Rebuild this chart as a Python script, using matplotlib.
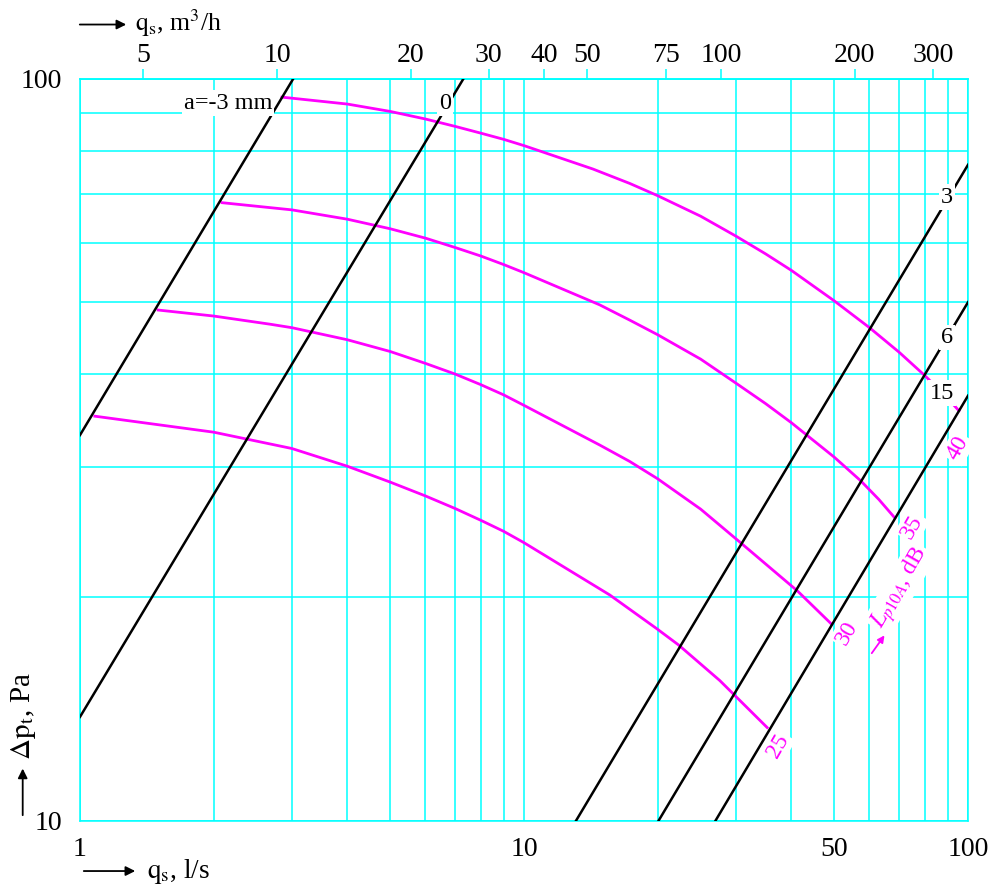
import matplotlib
matplotlib.use("Agg")
import matplotlib.pyplot as plt
from matplotlib.patches import FancyArrowPatch
from matplotlib.ticker import NullLocator

plt.rcParams['font.family'] = ['Liberation Serif', 'DejaVu Serif']
plt.rcParams['mathtext.fontset'] = 'stix'

# grid positions (l/s and Pa)
x_grid = [1, 2, 3, 4, 5, 6, 7, 8, 9, 10, 20, 30, 40, 50, 60, 70, 80, 90, 100]
y_grid = [10, 20, 30, 40, 50, 60, 70, 80, 90, 100]
x_labels = ['1', '', '', '', '', '', '', '', '', '10', '', '', '', '50', '', '', '', '', '100']
y_labels = ['10', '', '', '', '', '', '', '', '', '100']
top_ticks = [5, 10, 20, 30, 40, 50, 75, 100, 200, 300]

# damper setting lines a (mm), two end points each
damper_a = ['-3', '0', '3', '6', '15']
line_q = [[1, 3.02], [1, 7.3], [13.1, 100], [20.1, 100], [27.0, 100]]
line_dp = [[33.1, 100], [13.8, 100], [10, 76.6], [10, 50], [10, 37.4]]

# sound level curves Lp10A, dB
q_40 = [2.85, 3.0, 4.0, 5.0, 6.0, 7.0, 8.0, 9.0, 10.0, 14.3, 17.3, 20.0, 25.0, 30.0,
        35.0, 40.0, 50.0, 60.0, 70.0, 80.0, 90.0, 95.4]
dp_40 = [94.5, 94.2, 92.5, 90.4, 88.3, 86.3, 84.5, 82.9, 81.3, 75.6, 72.3, 69.6, 65.3, 61.4,
         58.1, 55.2, 50.2, 46.2, 42.8, 39.8, 37.1, 35.7]
q_35 = [2.09, 3.0, 4.0, 5.0, 6.0, 7.0, 8.0, 9.0, 10.0, 14.8, 17.3, 20.0, 25.0, 30.0,
        35.0, 40.0, 50.0, 57.4, 63.0, 68.4]
dp_35 = [68.1, 66.6, 64.7, 62.8, 61.0, 59.25, 57.7, 56.2, 54.8, 49.6, 47.3, 45.2, 41.9, 38.9,
         36.5, 34.4, 30.9, 28.7, 27.1, 25.6]
q_30 = [1.50, 2.0, 2.68, 3.0, 4.0, 5.0, 6.0, 7.0, 8.0, 9.0, 10.0, 14.8, 17.3, 20.0,
        25.0, 31.0, 41.3, 49.3]
dp_30 = [48.8, 47.9, 46.7, 46.2, 44.5, 42.9, 41.35, 40.0, 38.7, 37.5, 36.3, 32.1, 30.5, 28.9,
         26.3, 23.6, 20.4, 18.4]
q_25 = [1.08, 2.0, 3.0, 4.0, 5.0, 6.0, 7.0, 8.0, 9.0, 10.0, 15.6, 19.9, 22.3, 27.6, 35.3]
dp_25 = [35.1, 33.4, 31.75, 30.05, 28.6, 27.4, 26.35, 25.4, 24.55, 23.7, 20.15, 18.15, 17.25,
         15.45, 13.35]

CYAN = '#00ffff'
MAG = '#ff00ff'


def to_m3h(q):
    return q * 3.6


def to_ls(m):
    return m / 3.6


fig = plt.figure(figsize=(10, 8.92), dpi=100)
ax = fig.add_axes([0.08, 0.08, 0.888, 0.8315])
ax.set_xscale('log')
ax.set_yscale('log')
ax.set_xlim(1, 100)
ax.set_ylim(10, 100)

for v in x_grid:
    ax.axvline(v, color=CYAN, lw=1.1, zorder=1)
for v in y_grid:
    ax.axhline(v, color=CYAN, lw=1.1, zorder=1)

ax.set_xticks(x_grid, labels=x_labels)
ax.set_yticks(y_grid, labels=y_labels)
ax.xaxis.set_minor_locator(NullLocator())
ax.yaxis.set_minor_locator(NullLocator())
ax.tick_params(axis='x', length=0, pad=12, labelsize=20)
ax.tick_params(axis='y', length=0, pad=13, labelsize=20)
for s in ax.spines.values():
    s.set_color(CYAN)
    s.set_linewidth(1.1)

secax = ax.secondary_xaxis('top', functions=(to_m3h, to_ls))
secax.set_xticks(top_ticks, labels=[str(t) for t in top_ticks])
secax.xaxis.set_minor_locator(NullLocator())
secax.tick_params(axis='x', direction='out', length=7, width=1.1, color=CYAN,
                  pad=1, labelsize=20)
secax.spines['top'].set_color(CYAN)
secax.spines['top'].set_linewidth(1.1)

# damper lines
for qs, dps in zip(line_q, line_dp):
    ax.plot(qs, dps, color='black', lw=1.8, zorder=3)

# sound curves
for qs, dps in [(q_40, dp_40), (q_35, dp_35), (q_30, dp_30), (q_25, dp_25)]:
    ax.plot(qs, dps, color=MAG, lw=2.0, zorder=2, solid_joinstyle='round')

box = dict(facecolor='white', edgecolor='none', pad=1.5)
ax.text(2.71, 92.8, 'a=-3 mm', ha='right', va='center', fontsize=17.5, bbox=box, zorder=5)
ax.text(6.64, 92.8, damper_a[1], ha='center', va='center', fontsize=17.5, bbox=box, zorder=5)
ax.text(89.7, 69.3, damper_a[2], ha='center', va='center', fontsize=17.5, bbox=box, zorder=5)
ax.text(89.7, 44.8, damper_a[3], ha='center', va='center', fontsize=17.5, bbox=box, zorder=5)
ax.text(87.4, 37.7, damper_a[4], ha='center', va='center', fontsize=17.5, bbox=box, zorder=5)

ax.text(94.9, 31.8, '40', color=MAG, rotation=60, ha='center', va='center',
        fontsize=17, bbox=box, zorder=5)
ax.text(74.8, 24.9, '35', color=MAG, rotation=60, ha='center', va='center',
        fontsize=17, bbox=box, zorder=5)
ax.text(53.4, 17.9, '30', color=MAG, rotation=60, ha='center', va='center',
        fontsize=17, bbox=box, zorder=5)
ax.text(37.3, 12.6, '25', color=MAG, rotation=60, ha='center', va='center',
        fontsize=17, bbox=box, zorder=5)
ax.text(70.3, 20.6, r'$L_{p10A}$, dB', color=MAG, rotation=60, ha='center',
        va='center', fontsize=17, bbox=box, zorder=5)
ax.annotate('', xy=(65.4, 17.9), xytext=(60.2, 16.7),
            arrowprops=dict(arrowstyle='-|>', color=MAG, lw=1.3), zorder=5)

# axis titles with arrows
arrow = dict(arrowstyle='-|>', color='black', lw=1.3, mutation_scale=14)
fig.text(0.135, 0.9745, r'$\mathrm{q}_\mathrm{s}$, m$^3$/h', ha='left', va='center', fontsize=18.5)
fig.add_artist(FancyArrowPatch((0.077, 0.9725), (0.129, 0.9725),
                               transform=fig.transFigure, **arrow))
fig.text(0.147, 0.0235, r'$\mathrm{q}_\mathrm{s}$, l/s', ha='left', va='center', fontsize=19.5)
fig.add_artist(FancyArrowPatch((0.081, 0.0235), (0.138, 0.0235),
                               transform=fig.transFigure, **arrow))
fig.text(0.024, 0.148, r'$\Delta\mathrm{p}_\mathrm{t}$, Pa', rotation=90, ha='center',
         va='bottom', fontsize=21)
fig.add_artist(FancyArrowPatch((0.0227, 0.083), (0.0227, 0.1415),
                               transform=fig.transFigure, **arrow))

fig.savefig('out.png', dpi=100, facecolor='white')
